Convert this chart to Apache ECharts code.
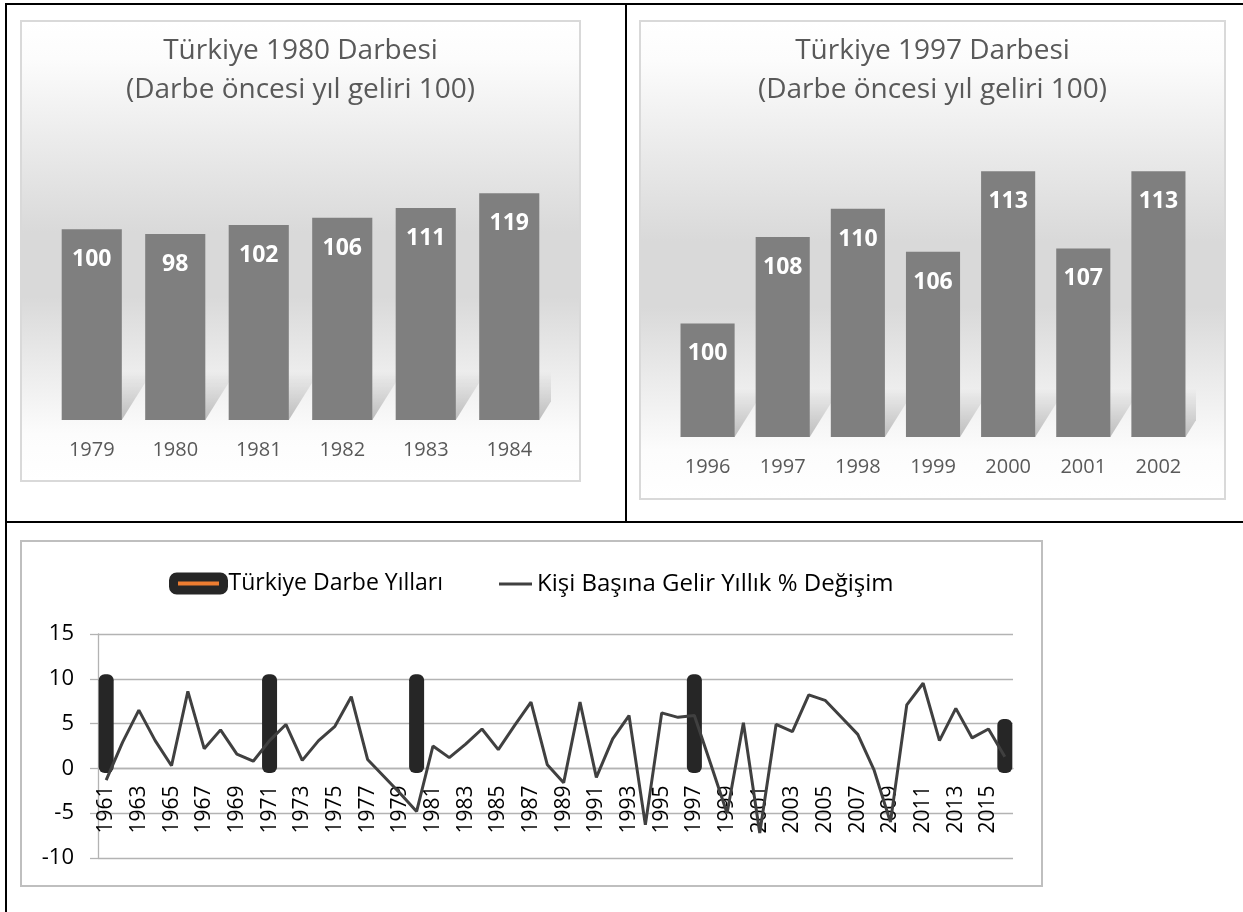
<!DOCTYPE html>
<html>
<head>
<meta charset="utf-8">
<script src="https://cdn.jsdelivr.net/npm/echarts@6/dist/echarts.min.js"></script>
<style>
  body { margin: 0; background: #fff; width: 1243px; height: 912px; overflow: hidden; position: relative; }
  .rule { position: absolute; background: #000; }
  .frame { position: absolute; box-sizing: border-box; }
  .chart { position: absolute; }
  .soft { border: 2px solid #d9d9d9;
    background: linear-gradient(to bottom, #ffffff 0%, #fcfcfc 8%, #ececec 25%, #d9d9d9 46%, #d9d9d9 60%, #ebebeb 75%, #fcfcfc 90%, #ffffff 100%); }
</style>
</head>
<body>
<!-- table rules -->
<div class="rule" style="left:5px;top:3px;width:1238px;height:2px"></div>
<div class="rule" style="left:5px;top:3px;width:2px;height:909px"></div>
<div class="rule" style="left:625px;top:3px;width:2px;height:520px"></div>
<div class="rule" style="left:5px;top:521px;width:1238px;height:2px"></div>

<div class="frame soft" style="left:20px;top:20px;width:561px;height:462px"></div>
<div class="chart" id="c80" style="left:20px;top:20px;width:561px;height:462px"></div>

<div class="frame soft" style="left:639px;top:20px;width:587px;height:480px"></div>
<div class="chart" id="c97" style="left:639px;top:20px;width:587px;height:480px"></div>

<div class="frame" style="left:20px;top:540px;width:1023px;height:347px;border:2px solid #bfbfbf"></div>
<div class="chart" id="cLine" style="left:20px;top:540px;width:1023px;height:347px"></div>

<script>
// 1980 darbesi
var years80 = ['1979', '1980', '1981', '1982', '1983', '1984'];
var income80 = [100, 97.5, 102.3, 106.1, 111.2, 118.9];

// 1997 darbesi
var years97 = ['1996', '1997', '1998', '1999', '2000', '2001', '2002'];
var income97 = [100, 107.6, 110.1, 106.3, 113.4, 106.6, 113.4];

// kişi başına gelir yıllık % değişim
var years = ['1961', '1962', '1963', '1964', '1965', '1966', '1967', '1968', '1969', '1970',
    '1971', '1972', '1973', '1974', '1975', '1976', '1977', '1978', '1979', '1980',
    '1981', '1982', '1983', '1984', '1985', '1986', '1987', '1988', '1989', '1990',
    '1991', '1992', '1993', '1994', '1995', '1996', '1997', '1998', '1999', '2000',
    '2001', '2002', '2003', '2004', '2005', '2006', '2007', '2008', '2009', '2010',
    '2011', '2012', '2013', '2014', '2015', '2016'];
var growth = [-1.3, 2.9, 6.5, 3.1, 0.3, 8.6, 2.2, 4.3, 1.6, 0.8,
    3.1, 4.9, 0.9, 3.1, 4.7, 8.0, 1.0, -0.9, -2.8, -4.8,
    2.5, 1.2, 2.7, 4.4, 2.1, 4.8, 7.4, 0.4, -1.6, 7.4,
    -1.0, 3.3, 5.9, -6.3, 6.2, 5.7, 5.9, 0.5, -5.0, 5.1,
    -7.2, 4.9, 4.1, 8.2, 7.6, 5.7, 3.8, -0.2, -6.0, 7.1,
    9.5, 3.1, 6.7, 3.4, 4.4, 1.3];
var coupYears = ['1961', '1971', '1980', '1997', '2016'];
var coupMarks = [10, 10, 10, 10, 5];
var growthMin = -10, growthMax = 15, growthStep = 5;

var font = 'Open Sans';

// yumuşak zemin gölgesi (Excel efekti)
function floorShadow(base, ratio) {
    return function (params, api) {
        var p = api.coord([api.value(0), base]);
        var w = api.size([1, 0])[0] * ratio;
        var x0 = p[0] - w / 2, x1 = p[0] + w / 2, y = p[1];
        return {
            type: 'polygon',
            shape: { points: [[x0, y], [x1, y], [x1 + 30, y - 48], [x0 + 30, y - 48]] },
            style: {
                fill: new echarts.graphic.LinearGradient(0, 1, 0, 0, [
                    { offset: 0, color: 'rgba(0,0,0,0.24)' },
                    { offset: 1, color: 'rgba(0,0,0,0)' }
                ])
            }
        };
    };
}

function coupChart(id, title, cats, vals, yMin, yMax, grid) {
    var chart = echarts.init(document.getElementById(id));
    chart.setOption({
        animation: false,
        textStyle: { fontFamily: font },
        title: {
            text: title,
            left: 'center',
            top: 7,
            textStyle: { fontFamily: font, fontSize: 28, fontWeight: 'normal', color: '#595959', lineHeight: 39 }
        },
        grid: grid,
        xAxis: {
            type: 'category',
            data: cats,
            axisLine: { show: false },
            axisTick: { show: false },
            axisLabel: { color: '#595959', fontSize: 20, fontFamily: font, margin: 20 }
        },
        yAxis: { type: 'value', min: yMin, max: yMax, show: false },
        series: [{
            type: 'custom',
            renderItem: floorShadow(yMin, 0.72),
            data: vals.map(function (v, i) { return [i, v]; }),
            clip: true,
            silent: true,
            z: 1
        }, {
            type: 'bar',
            data: vals,
            barCategoryGap: '28%',
            itemStyle: { color: '#7f7f7f' },
            label: {
                show: true,
                position: 'insideTop',
                distance: 19,
                color: '#fff',
                fontWeight: 'bold',
                fontSize: 23,
                fontFamily: font,
                formatter: function (p) { return Math.round(p.value); }
            },
            z: 2
        }]
    });
}

coupChart('c80', 'Türkiye 1980 Darbesi\n(Darbe öncesi yıl geliri 100)', years80, income80, 0, 140,
    { left: 30, right: 30, top: 133, bottom: 62, outerBoundsMode: 'none' });
coupChart('c97', 'Türkiye 1997 Darbesi\n(Darbe öncesi yıl geliri 100)', years97, income97, 90, 115,
    { left: 31, right: 30, top: 133, bottom: 63, outerBoundsMode: 'none' });

// darbe yılları: yuvarlak uçlu kalın çubuklar
var coupData = coupYears.map(function (y, k) {
    return [years.indexOf(y), coupMarks[k]];
});

function coupBar(params, api) {
    var top = api.coord([api.value(0), api.value(1)]);
    var bot = api.coord([api.value(0), 0]);
    var w = 15, pad = 4.5;
    return {
        type: 'rect',
        shape: { x: top[0] - w / 2, y: top[1] - pad, width: w, height: bot[1] - top[1] + 2 * pad, r: 6 },
        style: { fill: '#262626' }
    };
}

var gridGray = '#b3b3b3';
var lineGrid = { left: 78, right: 30, top: 94, bottom: 29, outerBoundsMode: 'none' };
var plotH = 347 - lineGrid.top - lineGrid.bottom;
// x ekseni 0 çizgisinde
var zeroOffset = -plotH * (0 - growthMin) / (growthMax - growthMin);

var line = echarts.init(document.getElementById('cLine'));
line.setOption({
    animation: false,
    textStyle: { fontFamily: font },
    legend: [{
        data: [{
            name: 'Türkiye Darbe Yılları',
            icon: 'roundRect',
            itemStyle: { color: '#ED7D31', borderColor: '#262626', borderWidth: 9, borderJoin: 'round' }
        }],
        left: 144, top: 27, itemWidth: 50, itemHeight: 13,
        textStyle: { fontFamily: font, fontSize: 23, color: '#000' }
    }, {
        data: [{
            name: 'Kişi Başına Gelir Yıllık % Değişim',
            icon: 'rect',
            itemStyle: { color: '#404040' }
        }],
        left: 474, top: 27, itemWidth: 33, itemHeight: 3,
        textStyle: { fontFamily: font, fontSize: 24, color: '#000' }
    }],
    grid: lineGrid,
    xAxis: {
        type: 'category',
        data: years,
        offset: zeroOffset,
        axisLine: { onZero: false, lineStyle: { color: gridGray, width: 1.3 } },
        axisTick: { interval: 0, length: 8, lineStyle: { color: gridGray, width: 1.3 } },
        axisLabel: { interval: 1, rotate: 90, margin: 17, fontSize: 21, color: '#000', fontFamily: font }
    },
    yAxis: {
        type: 'value',
        min: growthMin,
        max: growthMax,
        interval: growthStep,
        axisLine: { show: true, onZero: false, lineStyle: { color: gridGray, width: 1.3 } },
        axisTick: { show: true, length: 8, lineStyle: { color: gridGray, width: 1.3 } },
        splitLine: { lineStyle: { color: gridGray, width: 1.3 } },
        axisLabel: { fontSize: 22, color: '#000', margin: 24, fontFamily: font }
    },
    series: [{
        name: 'Türkiye Darbe Yılları',
        type: 'custom',
        data: coupData,
        renderItem: coupBar,
        encode: { x: 0, y: 1 },
        itemStyle: { color: '#262626' },
        z: 2
    }, {
        name: 'Kişi Başına Gelir Yıllık % Değişim',
        type: 'line',
        data: growth,
        symbol: 'none',
        lineStyle: { color: '#404040', width: 3 },
        itemStyle: { color: '#404040' },
        z: 3
    }]
});
</script>
</body>
</html>
